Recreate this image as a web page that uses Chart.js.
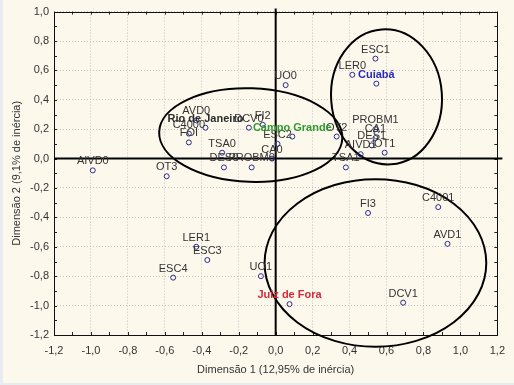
<!DOCTYPE html>
<html>
<head>
<meta charset="utf-8">
<script src="https://cdn.jsdelivr.net/npm/chart.js@4"></script>
<style>
body { margin: 0; background: #e6ecf0; }
#wrap { position: absolute; left: 3px; top: 0; width: 511px; height: 383px; background: #fcf8ec; }
</style>
</head>
<body>
<div id="wrap"><canvas id="chart" width="511" height="383"></canvas></div>
<script>
// column categories (variables)
const colNames = ['AIVD0', 'OT3', 'AVD0', 'C4000', 'FOI', 'TSA0', 'DES0', 'PROBM0', 'DCV0', 'FI2',
    'ESC2', 'CA0', 'UO0', 'OT2', 'TSA1', 'AIVD1', 'DES1', 'CA1', 'PROBM1', 'OT1',
    'ESC1', 'LER0', 'FI3', 'C4001', 'AVD1', 'UO1', 'DCV1', 'LER1', 'ESC3', 'ESC4'];
const colDim1 = [-0.99, -0.59, -0.43, -0.47, -0.47, -0.29, -0.28, -0.13, -0.145, -0.07,
    0.01, -0.02, 0.054, 0.33, 0.38, 0.46, 0.52, 0.54, 0.54, 0.59,
    0.54, 0.415, 0.50, 0.88, 0.93, -0.08, 0.69, -0.43, -0.37, -0.555];
const colDim2 = [-0.08, -0.12, 0.26, 0.17, 0.11, 0.04, -0.06, -0.06, 0.21, 0.23,
    0.10, 0.00, 0.50, 0.15, -0.06, 0.03, 0.09, 0.14, 0.20, 0.04,
    0.68, 0.57, -0.37, -0.33, -0.58, -0.80, -0.98, -0.60, -0.69, -0.81];

// row categories (cities)
const rowNames = ['Rio de Janeiro', 'Campo Grande', 'Cuiabá', 'Juiz de Fora'];
const rowDim1 = [-0.38, 0.09, 0.545, 0.075];
const rowDim2 = [0.21, 0.15, 0.51, -0.99];

const ticksX = [-1.2, -1.0, -0.8, -0.6, -0.4, -0.2, 0.0, 0.2, 0.4, 0.6, 0.8, 1.0, 1.2];
const ticksY = [-1.2, -1.0, -0.8, -0.6, -0.4, -0.2, 0.0, 0.2, 0.4, 0.6, 0.8, 1.0];

// groups drawn as ellipses: center, radii (data units), rotation (deg)
const groups = [
    {cx: -0.135, cy: 0.16, rx: 0.496, ry: 0.318, rot: 2},
    {cx: 0.60, cy: 0.42, rx: 0.30, ry: 0.46, rot: -4},
    {cx: 0.54, cy: -0.71, rx: 0.60, ry: 0.57, rot: 0}
];

const rowColors = ['#2b2b2b', '#2f9a2f', '#2a2ab8', '#d8283a'];
const textColor = '#333333';
const pointColor = '#2a2a8c';

function fmt(v) {
    if (Math.abs(v) < 1e-9) return '0,0';
    return v.toFixed(1).replace('.', ',');
}

const decorPlugin = {
    id: 'decor',
    beforeDatasetsDraw(chart) {
        const ctx = chart.ctx;
        const a = chart.chartArea;
        const sx = chart.scales.x, sy = chart.scales.y;
        ctx.save();
        // inner minor ticks every 0.1
        ctx.strokeStyle = '#222';
        ctx.lineWidth = 1;
        ctx.beginPath();
        for (let i = -12; i <= 12; i++) {
            const px = Math.round(sx.getPixelForValue(i / 10)) + 0.5;
            ctx.moveTo(px, a.top); ctx.lineTo(px, a.top + 3);
            ctx.moveTo(px, a.bottom); ctx.lineTo(px, a.bottom - 3);
        }
        for (let i = -12; i <= 10; i++) {
            const py = Math.round(sy.getPixelForValue(i / 10)) + 0.5;
            ctx.moveTo(a.left, py); ctx.lineTo(a.left + 3, py);
            ctx.moveTo(a.right, py); ctx.lineTo(a.right - 3, py);
        }
        ctx.stroke();
        // frame
        ctx.strokeStyle = '#111';
        ctx.strokeRect(Math.round(a.left) + 0.5, Math.round(a.top) + 0.5,
            Math.round(a.right - a.left), Math.round(a.bottom - a.top));
        // zero lines
        ctx.lineWidth = 2;
        ctx.strokeStyle = '#000';
        const x0 = sx.getPixelForValue(0), y0 = sy.getPixelForValue(0);
        ctx.beginPath();
        ctx.moveTo(a.left, y0); ctx.lineTo(a.right + 5, y0);
        ctx.moveTo(x0, a.top - 3); ctx.lineTo(x0, a.bottom);
        ctx.stroke();
        // ellipses
        const ux = sx.getPixelForValue(1) - sx.getPixelForValue(0);
        const uy = sy.getPixelForValue(0) - sy.getPixelForValue(1);
        ctx.lineWidth = 2;
        groups.forEach(g => {
            ctx.beginPath();
            ctx.ellipse(sx.getPixelForValue(g.cx), sy.getPixelForValue(g.cy),
                g.rx * ux, g.ry * uy, g.rot * Math.PI / 180, 0, Math.PI * 2);
            ctx.stroke();
        });
        ctx.restore();
    },
    afterDatasetsDraw(chart) {
        const ctx = chart.ctx;
        ctx.save();
        ctx.textAlign = 'center';
        ctx.textBaseline = 'middle';
        // column labels
        ctx.font = '11px "Liberation Sans", Arial, sans-serif';
        ctx.fillStyle = textColor;
        chart.getDatasetMeta(0).data.forEach((pt, i) => {
            ctx.fillText(colNames[i], pt.x, pt.y - 9);
        });
        // row labels
        ctx.font = 'bold 11px "Liberation Sans", Arial, sans-serif';
        chart.getDatasetMeta(1).data.forEach((pt, i) => {
            ctx.fillStyle = rowColors[i];
            ctx.fillText(rowNames[i], pt.x, pt.y - 9);
        });
        ctx.restore();
    }
};

const ctx = document.getElementById('chart').getContext('2d');
const chart = new Chart(ctx, {
    type: 'scatter',
    data: {
        datasets: [{
            label: 'Colunas',
            data: colNames.map((n, i) => ({x: colDim1[i], y: colDim2[i]})),
            pointRadius: 2.5,
            pointBorderWidth: 1,
            borderColor: pointColor,
            backgroundColor: 'rgba(255,255,255,0)'
        }, {
            label: 'Linhas',
            data: rowNames.map((n, i) => ({x: rowDim1[i], y: rowDim2[i]})),
            pointRadius: 2.5,
            pointBorderWidth: 1,
            borderColor: pointColor,
            backgroundColor: 'rgba(255,255,255,0)'
        }]
    },
    options: {
        responsive: false,
        animation: false,
        layout: {padding: {top: 10, right: 14, bottom: 0, left: 0}},
        plugins: {
            legend: {display: false},
            tooltip: {enabled: false}
        },
        scales: {
            x: {
                type: 'linear',
                min: -1.2,
                max: 1.2,
                afterBuildTicks: scale => { scale.ticks = ticksX.map(v => ({value: v})); },
                afterFit: scale => { scale.height = 48; },
                grid: {color: '#c4c4c4', drawTicks: false},
                border: {display: false, dash: [1, 2]},
                ticks: {
                    padding: 9,
                    color: textColor,
                    font: {family: '"Liberation Sans", Arial, sans-serif', size: 11},
                    callback: v => fmt(v)
                },
                title: {
                    display: true,
                    text: 'Dimensão 1 (12,95% de inércia)',
                    color: textColor,
                    font: {family: '"Liberation Sans", Arial, sans-serif', size: 11},
                    padding: {top: 0, bottom: 6}
                }
            },
            y: {
                type: 'linear',
                min: -1.2,
                max: 1.0,
                afterBuildTicks: scale => { scale.ticks = ticksY.map(v => ({value: v})); },
                afterFit: scale => { scale.width = 51; },
                grid: {color: '#c4c4c4', drawTicks: false},
                border: {display: false, dash: [1, 2]},
                ticks: {
                    padding: 5,
                    color: textColor,
                    font: {family: '"Liberation Sans", Arial, sans-serif', size: 11},
                    callback: v => fmt(v)
                },
                title: {
                    display: true,
                    text: 'Dimensão 2 (9,1% de inércia)',
                    color: textColor,
                    font: {family: '"Liberation Sans", Arial, sans-serif', size: 11},
                    padding: {top: 7, bottom: 0}
                }
            }
        }
    },
    plugins: [decorPlugin]
});
</script>
</body>
</html>
